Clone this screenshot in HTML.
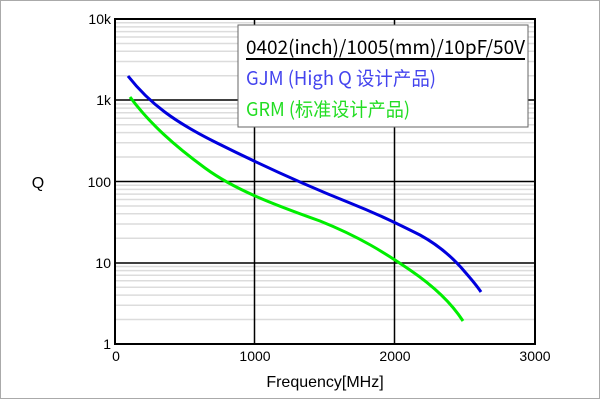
<!DOCTYPE html>
<html><head><meta charset="utf-8"><style>
html,body{margin:0;padding:0;background:#fff}
svg{display:block}
</style></head><body>
<svg width="600" height="400" xmlns="http://www.w3.org/2000/svg" font-family="Liberation Sans, sans-serif">
<rect x="0.5" y="0.5" width="599" height="398" fill="#fff" stroke="#aaa"/>
<g id="minor" stroke="#dcdcdc" stroke-width="1.5"></g>
<g stroke="#000" stroke-width="1.5" fill="none">
<line x1="115" y1="100" x2="535" y2="100"/>
<line x1="115" y1="181.5" x2="535" y2="181.5"/>
<line x1="115" y1="263" x2="535" y2="263"/>
<line x1="254.5" y1="19" x2="254.5" y2="344"/>
<line x1="394.5" y1="19" x2="394.5" y2="344"/>
<rect x="115" y="19" width="420" height="325" stroke-width="2"/>
</g>
<path d="M128,76 C150,104 175,122 215,142 C255,162 300,183 350,203 C380,215 400,225 420,235 C440,246 455,260 465,272 C472,280 477,286 481,292" fill="none" stroke="#0000dd" stroke-width="3"/>
<path d="M130,97 C150,124 175,146 205,168 C235,190 275,205 320,221 C360,237 385,253 410,270 C435,287 452,304 463,321" fill="none" stroke="#00ee00" stroke-width="3"/>
<g font-size="14" fill="#000" text-anchor="end">
<text x="111" y="24">10k</text>
<text x="111" y="105">1k</text>
<text x="111" y="187">100</text>
<text x="111" y="268">10</text>
<text x="111" y="349">1</text>
</g>
<g font-size="14" fill="#000" text-anchor="middle">
<text x="116" y="361">0</text>
<text x="255" y="361">1000</text>
<text x="395" y="361">2000</text>
<text x="535" y="361">3000</text>
<text x="325" y="387" font-size="16">Frequency[MHz]</text>
<text x="38" y="188" font-size="16">Q</text>
</g>
<rect x="238" y="25" width="290" height="102" fill="#fff" stroke="#666" stroke-width="1"/>
<g font-family="Noto Sans CJK SC, sans-serif" font-size="19">
<text x="246" y="54" textLength="279" lengthAdjust="spacingAndGlyphs" fill="#000">0402(inch)/1005(mm)/10pF/50V</text>
<line x1="246" y1="59" x2="525" y2="59" stroke="#000" stroke-width="2"/>
<text x="246" y="85" textLength="190" lengthAdjust="spacingAndGlyphs" fill="#4444ee">GJM (High Q 设计产品)</text>
<text x="246" y="116" textLength="164" lengthAdjust="spacingAndGlyphs" fill="#22dd22">GRM (标准设计产品)</text>
</g>
</svg>
<script>
var g=document.getElementById('minor'),s='';
for(var d=0;d<4;d++)for(var k=2;k<10;k++){var y=344-81.25*(d+Math.log10(k));s+='<line x1="116" x2="534" y1="'+y.toFixed(1)+'" y2="'+y.toFixed(1)+'"/>';}
g.innerHTML=s;
</script>
</body></html>
